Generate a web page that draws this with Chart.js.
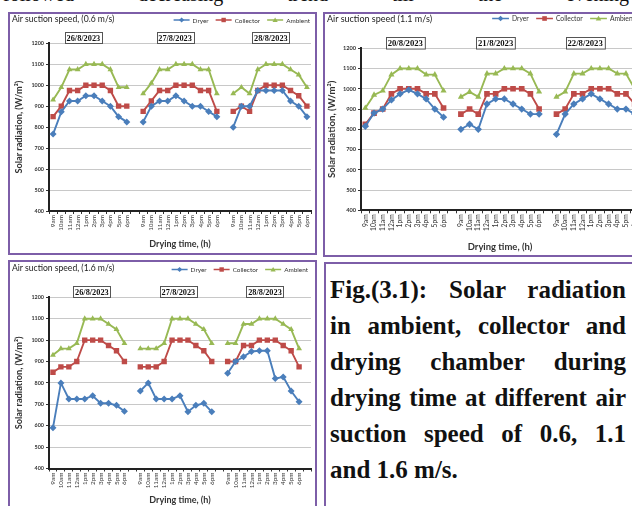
<!DOCTYPE html>
<html>
<head>
<meta charset="utf-8">
<script src="https://cdn.jsdelivr.net/npm/chart.js@4/dist/chart.umd.min.js"></script>
<style>
  html, body { margin: 0; padding: 0; background: #fff; }
  body { width: 632px; height: 506px; overflow: hidden; position: relative; }
  .lead { position: absolute; left: 3px; width: 626px; top: -16px; font: 20px/1 "Liberation Serif", serif; color: #111;
          text-align: justify; text-align-last: justify; }
  .panel { position: absolute; border: 2px solid #7d5ea8; box-sizing: border-box; }
  .ptitle { position: absolute; font: 8.6px/1 Lato, sans-serif; color: #222; white-space: nowrap; }
  canvas { position: absolute; }
  #cap { position: absolute; left: 330px; top: 272px; width: 296px; font: bold 25px/36px "Liberation Serif", serif; color: #111; }
  #cap .ln { text-align: justify; text-align-last: justify; }
  #cap .last { text-align: left; text-align-last: left; }
</style>
</head>
<body>
<div class="lead">followed decreasing trend till the evening</div>

<div class="panel" style="left:8px;top:12px;width:309px;height:243px"></div>
<div class="panel" style="left:323px;top:12px;width:340px;height:245px"></div>
<div class="panel" style="left:8px;top:260px;width:309px;height:260px"></div>
<div class="panel" style="left:324px;top:262px;width:330px;height:260px"></div>

<canvas id="c06" width="305" height="238" style="left:10px;top:14px"></canvas>
<canvas id="c11" width="330" height="240" style="left:325px;top:14px"></canvas>
<canvas id="c16" width="305" height="244" style="left:10px;top:262px"></canvas>

<div class="ptitle" style="left:12px;top:15px">Air suction speed, (0.6 m/s)</div>
<div class="ptitle" style="left:327px;top:14px;font-size:9px">Air suction speed (1.1 m/s)</div>
<div class="ptitle" style="left:12px;top:264px">Air suction speed, (1.6 m/s)</div>

<div id="cap">
  <div class="ln">Fig.(3.1): Solar radiation</div>
  <div class="ln">in ambient, collector and</div>
  <div class="ln">drying chamber during</div>
  <div class="ln">drying time at different air</div>
  <div class="ln">suction speed of 0.6, 1.1</div>
  <div class="ln last">and 1.6 m/s.</div>
</div>

<script>
// Hourly readings, 9am to 6pm, one row per day
const hours = ['9am', '10am', '11am', '12am', '1pm', '2pm', '3pm', '4pm', '5pm', '6pm'];

// Air suction speed 0.6 m/s
const dates06 = ['26/8/2023', '27/8/2023', '28/8/2023'];
const dryer06 = [
  [767, 873, 925, 925, 950, 950, 925, 900, 850, 825],
  [825, 900, 925, 925, 950, 925, 900, 900, 875, 850],
  [800, 900, 900, 975, 975, 975, 975, 925, 900, 850]
];
const collector06 = [
  [850, 900, 975, 975, 1000, 1000, 1000, 975, 900, 900],
  [875, 925, 975, 975, 1000, 1000, 1000, 975, 975, 875],
  [875, 900, 875, 975, 1000, 1000, 1000, 975, 950, 900]
];
const ambient06 = [
  [930, 990, 1075, 1075, 1100, 1100, 1100, 1075, 990, 990],
  [960, 1010, 1075, 1075, 1100, 1100, 1100, 1075, 1075, 960],
  [960, 990, 960, 1075, 1100, 1100, 1100, 1075, 1050, 990]
];

// Air suction speed 1.1 m/s
const dates11 = ['20/8/2023', '21/8/2023', '22/8/2023'];
const dryer11 = [
  [815, 880, 900, 945, 975, 995, 975, 950, 900, 860],
  [800, 825, 800, 925, 950, 950, 925, 900, 875, 875],
  [775, 875, 925, 950, 975, 950, 925, 900, 900, 875]
];
const collector11 = [
  [825, 880, 900, 975, 1000, 1000, 1000, 975, 975, 905],
  [875, 900, 875, 975, 975, 1000, 1000, 1000, 975, 900],
  [875, 900, 975, 975, 1000, 1000, 1000, 975, 975, 925]
];
const ambient11 = [
  [905, 970, 990, 1070, 1100, 1100, 1100, 1070, 1070, 990],
  [960, 985, 960, 1075, 1075, 1100, 1100, 1100, 1075, 985],
  [960, 985, 1075, 1075, 1100, 1100, 1100, 1075, 1075, 1000]
];

// Air suction speed 1.6 m/s
const dates16 = ['26/8/2023', '27/8/2023', '28/8/2023'];
const dryer16 = [
  [590, 800, 725, 725, 725, 740, 705, 705, 695, 668],
  [762, 800, 725, 725, 725, 740, 665, 695, 705, 665],
  [845, 900, 922, 947, 950, 950, 820, 828, 762, 712]
];
const collector16 = [
  [850, 875, 875, 900, 1000, 1000, 1000, 975, 950, 900],
  [875, 875, 875, 900, 1000, 1000, 1000, 975, 950, 900],
  [900, 900, 975, 975, 1000, 1000, 1000, 975, 950, 875]
];
const ambient16 = [
  [930, 960, 960, 985, 1100, 1100, 1100, 1075, 1050, 985],
  [960, 960, 960, 985, 1100, 1100, 1100, 1075, 1050, 985],
  [985, 985, 1075, 1075, 1100, 1100, 1100, 1075, 1050, 960]
];

const yTicks = { min: 400, max: 1200, step: 100 };

const BLUE = '#4a7ebb', RED = '#be4b48', GREEN = '#98b954';
const SHAPES = ['diamond', 'square', 'triangle'];

// Days joined with an empty slot between them so each day is its own line
function joinDays(days) {
  const out = [];
  days.forEach((d, i) => { if (i) out.push(null); out.push(...d); });
  return out;
}
function dayCategories(n, trailingBlank) {
  const c = [];
  for (let i = 0; i < n; i++) { if (i) c.push(''); c.push(...hours); }
  if (trailingBlank) c.push('');
  return c;
}

// Legend swatch: short line with the series marker in the middle
function drawSwatch(g, x, cy, w, color, shape, s) {
  g.save();
  g.strokeStyle = color; g.fillStyle = color; g.lineWidth = 1.5;
  g.beginPath(); g.moveTo(x, cy); g.lineTo(x + w, cy); g.stroke();
  const cx = x + w / 2, r = 2.6 * s;
  g.beginPath();
  if (shape === 'diamond') { g.moveTo(cx, cy - r); g.lineTo(cx + r, cy); g.lineTo(cx, cy + r); g.lineTo(cx - r, cy); }
  else if (shape === 'square') { g.rect(cx - r * 0.85, cy - r * 0.85, r * 1.7, r * 1.7); }
  else { g.moveTo(cx, cy - r); g.lineTo(cx + r, cy + r * 0.75); g.lineTo(cx - r, cy + r * 0.75); }
  g.closePath(); g.fill();
  g.restore();
}

// Series key (right-aligned on the title row) and boxed date captions over each day
const panelDecor = {
  id: 'panelDecor',
  afterDraw(chart, args, o) {
    const { ctx, chartArea, scales } = chart;
    ctx.save();

    // key
    ctx.font = o.keySize + 'px Lato, sans-serif';
    ctx.textBaseline = 'middle';
    ctx.textAlign = 'left';
    const items = chart.data.datasets.map((ds, i) => ({ text: ds.label, color: ds.borderColor, shape: SHAPES[i] }));
    const widths = items.map(it => o.swW + o.swGap + ctx.measureText(it.text).width);
    let x = o.keyRight - widths.reduce((a, b) => a + b, 0) - o.itemGap * (items.length - 1);
    items.forEach((it, i) => {
      drawSwatch(ctx, x, o.keyY, o.swW, it.color, it.shape, o.s);
      ctx.fillStyle = '#333';
      ctx.fillText(it.text, x + o.swW + o.swGap, o.keyY + 0.5);
      x += widths[i] + o.itemGap;
    });

    // date boxes
    ctx.font = 'bold ' + o.size + 'px "Liberation Serif", serif';
    ctx.textAlign = 'center';
    o.labels.forEach((t, i) => {
      const cx = scales.x.getPixelForValue(o.anchors[i]);
      const x0 = Math.round(cx - o.w / 2) + 0.5;
      const y0 = Math.round(chartArea.top - o.h - o.gap) + 0.5;
      ctx.fillStyle = '#fff';
      ctx.fillRect(x0, y0, o.w, o.h);
      ctx.strokeStyle = '#555';
      ctx.lineWidth = 1;
      ctx.strokeRect(x0, y0, o.w, o.h);
      ctx.fillStyle = '#111';
      ctx.fillText(t, cx, y0 + o.h / 2 + 0.5);
    });
    ctx.restore();
  }
};

Chart.defaults.font.family = 'Lato, sans-serif';
Chart.defaults.color = '#333';

function build(id, cfg) {
  const s = cfg.scale;
  return new Chart(document.getElementById(id), {
    type: 'line',
    data: {
      labels: dayCategories(3, cfg.trailingBlank),
      datasets: [
        { label: 'Dryer', data: joinDays(cfg.dryer), borderColor: BLUE, backgroundColor: BLUE,
          pointStyle: 'rectRot', pointRadius: 3.5 * s, borderWidth: 1.9, pointBorderWidth: 0 },
        { label: 'Collector', data: joinDays(cfg.collector), borderColor: RED, backgroundColor: RED,
          pointStyle: 'rect', pointRadius: 3.8 * s, borderWidth: 1.9, pointBorderWidth: 0 },
        { label: 'Ambient', data: joinDays(cfg.ambient), borderColor: GREEN, backgroundColor: GREEN,
          pointStyle: 'triangle', pointRadius: 3.4 * s, borderWidth: 1.9, pointBorderWidth: 0 }
      ]
    },
    options: {
      responsive: false,
      animation: false,
      spanGaps: false,
      layout: { padding: { top: 0, left: 0, right: cfg.padRight, bottom: 0 } },
      plugins: {
        legend: { display: false },
        // empty band that reserves the title row and the date-box row above the plot
        subtitle: { display: true, text: '', font: { size: cfg.topBand, lineHeight: 1 }, padding: 0 },
        tooltip: { enabled: false },
        panelDecor: {
          s, keySize: 6.4 * s, keyRight: cfg.keyRight, keyY: cfg.keyY, swW: 16 * s, swGap: 3, itemGap: 7 * s,
          labels: cfg.dates, anchors: cfg.anchors, w: 37 * s, h: 11 * s, size: 8.3 * s, gap: 0
        }
      },
      scales: {
        x: {
          offset: true,
          grid: { display: true, drawOnChartArea: false, drawTicks: true, tickLength: 3, tickColor: '#333', offset: true },
          border: { display: true, color: '#222', width: 2 },
          ticks: { autoSkip: false, maxRotation: 90, minRotation: 90, font: { size: 6.4 * s }, color: '#333', padding: 1 },
          title: { display: true, text: 'Drying time, (h)', font: { size: 9 * s, weight: 'bold' }, color: '#333',
                   padding: { top: 0, bottom: cfg.xTitlePad } },
          afterFit(sc) { sc.height = cfg.xAxisH; sc.paddingLeft = 0; sc.paddingRight = 0; }
        },
        y: {
          min: yTicks.min, max: yTicks.max,
          ticks: { stepSize: yTicks.step, font: { size: 5.4 * s, weight: 'bold' }, color: '#333', padding: 2,
                   callback: (v) => String(v) },
          grid: { color: '#c8c8c8', lineWidth: 1, drawTicks: true, tickLength: 3, tickColor: '#333' },
          border: { display: true, color: '#222', width: 2 },
          title: { display: true, text: 'Solar radiation, (W/m²)', font: { size: 9.2 * s, weight: 'bold' }, color: '#333',
                   padding: { top: cfg.yTitlePad, bottom: 0 } },
          afterFit(sc) { sc.width = cfg.yAxisW; sc.paddingTop = 0; sc.paddingBottom = 0; }
        }
      }
    },
    plugins: [panelDecor]
  });
}

build('c06', {
  scale: 1, dryer: dryer06, collector: collector06, ambient: ambient06, dates: dates06,
  anchors: [3.7, 14.9, 26.6], trailingBlank: false, keyRight: 300, keyY: 6,
  padRight: 1, topBand: 29.3, yAxisW: 39, xAxisH: 41, xTitlePad: 2.7, yTitlePad: 3.6
});
build('c11', {
  scale: 1.05, dryer: dryer11, collector: collector11, ambient: ambient11, dates: dates11,
  anchors: [4.6, 15.0, 25.3], trailingBlank: false, keyRight: 310, keyY: 4.5,
  padRight: 16, topBand: 34.3, yAxisW: 36, xAxisH: 43.7, xTitlePad: 1.7, yTitlePad: 1.1
});
build('c16', {
  scale: 1, dryer: dryer16, collector: collector16, ambient: ambient16, dates: dates16,
  anchors: [4.9, 15.8, 26.7], trailingBlank: true, keyRight: 298, keyY: 7.5,
  padRight: 1, topBand: 35.3, yAxisW: 39, xAxisH: 37.5, xTitlePad: 0.7, yTitlePad: 3.6
});
</script>
</body>
</html>
